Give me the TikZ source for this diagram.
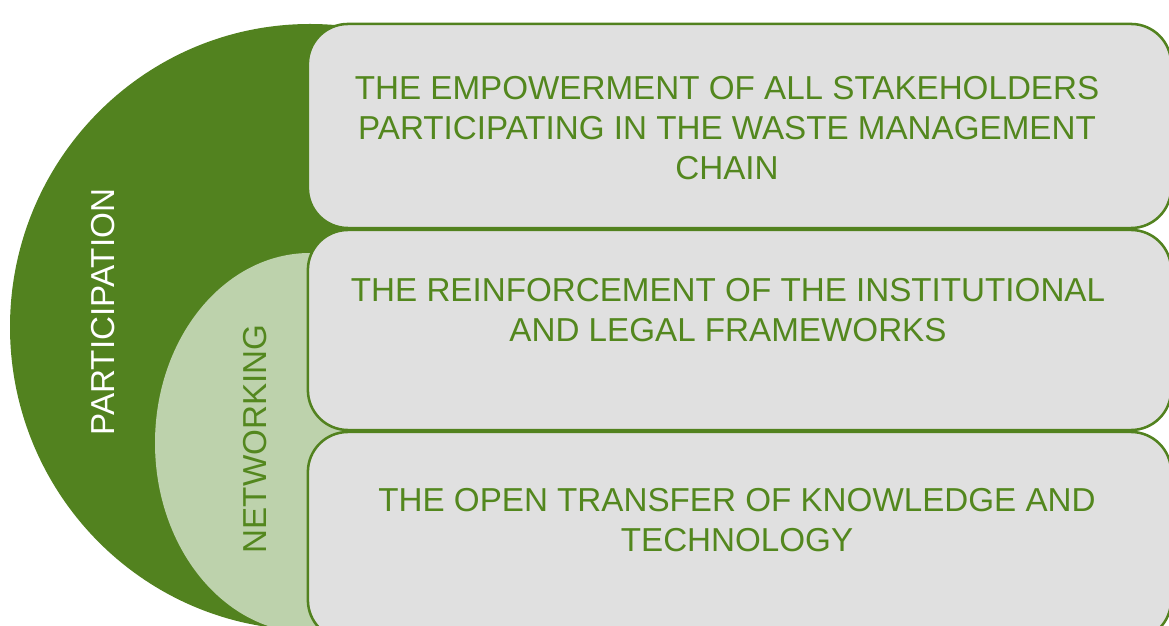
\documentclass[tikz,border=0pt]{standalone}
\usepackage{fontspec}
\setmainfont{Liberation Sans}
\usetikzlibrary{positioning}
\definecolor{leafgreen}{RGB}{82,130,31}
\definecolor{sagegreen}{RGB}{189,210,172}
\definecolor{boxgrey}{RGB}{224,224,224}
\definecolor{textgreen}{RGB}{83,135,30}
\tikzset{goalbox/.style={rectangle, draw=leafgreen, fill=boxgrey,
line width=1.8pt, rounded corners=1cm, inner sep=0pt,
minimum width=21.575cm}}
\tikzset{goaltext/.style={text=textgreen, align=center,
font=\fontsize{23.6}{28.5}\selectfont}}
\tikzset{sidelabel/.style={rotate=90, font=\fontsize{23.6}{28.5}\selectfont}}

\begin{document}
\begin{tikzpicture}[x=0.025cm, y=0.025cm]
\useasboundingbox (0,0) rectangle (1169,625);
\clip (0,0) rectangle (1169,625);

\fill [leafgreen] (310,298) ellipse [x radius=300, y radius=303];
\fill [sagegreen] (310,182) ellipse [x radius=155, y radius=190];

\node [sidelabel, text=white] (partlabel) at (103,313) {PARTICIPATION};
\node [sidelabel, text=textgreen] (netlabel) at (255,186) {NETWORKING};

\node [goalbox, minimum height = 5.1cm] (empower) at (739.5,499) {};
\node [goalbox, minimum height = 5cm] (reinforce) at (739.5,295) {};
\node [goalbox, minimum height = 5.2cm] (transfer) at (739.5,89) {};

\node [goaltext] (empowertext) at (727,497)
{THE EMPOWERMENT OF ALL STAKEHOLDERS\\PARTICIPATING IN THE WASTE MANAGEMENT\\CHAIN};
\node [goaltext] (reinforcetext) at (728,315)
{THE REINFORCEMENT OF THE INSTITUTIONAL\\AND LEGAL FRAMEWORKS};
\node [goaltext] (transfertext) at (737,105)
{THE OPEN TRANSFER OF KNOWLEDGE AND\\TECHNOLOGY};

\end{tikzpicture}
\end{document}
